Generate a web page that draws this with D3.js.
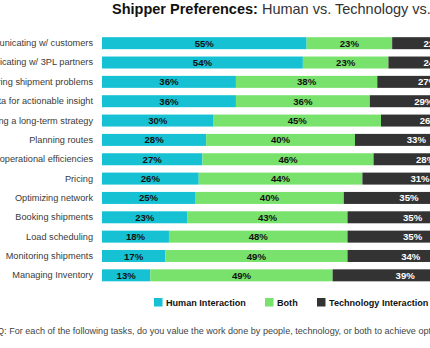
<!DOCTYPE html>
<html><head><meta charset="utf-8">
<script src="https://cdn.jsdelivr.net/npm/d3@7"></script>
<style>body{margin:0;background:#fff;overflow:hidden}svg{display:block;font-family:"Liberation Sans",Arial,sans-serif}</style>
</head><body>
<script>
const tasks = ["Communicating w/ customers","Communicating w/ 3PL partners","Discovering shipment problems","Analyzing data for actionable insight","Developing a long-term strategy","Planning routes","Identifying operational efficiencies","Pricing","Optimizing network","Booking shipments","Load scheduling","Monitoring shipments","Managing Inventory"];
const human = [55,54,36,36,30,28,27,26,25,23,18,17,13];
const both  = [23,23,38,36,45,40,46,44,40,43,48,49,49];
const tech  = [22,24,27,29,26,33,28,31,35,35,35,34,39];
const seriesNames = ["Human Interaction","Both","Technology Interaction"];
const colors = ["#16C1D4","#79E26C","#333333"];
const labelColors = ["#111","#111","#fff"];

const W=430,H=348;
const svg=d3.select("body").append("svg").attr("width",W).attr("height",H);

const x=d3.scaleLinear().domain([0,100]).range([102,474]);
const y=d3.scaleBand().domain(tasks).range([33.5,285]).paddingInner(0.38).paddingOuter(0.19);

const rows=tasks.map((t,i)=>({task:t,vals:[human[i],both[i],tech[i]]}));
const stack=d3.stack().keys([0,1,2]).value((d,k)=>d.vals[k]);
const layers=stack(rows);

layers.forEach((layer,k)=>{
  const g=svg.append("g");
  g.selectAll("rect").data(layer).join("rect")
    .attr("x",d=>x(d[0])).attr("width",d=>x(d[1])-x(d[0]))
    .attr("y",d=>y(d.data.task)).attr("height",y.bandwidth())
    .attr("fill",colors[k]);
  g.selectAll("text").data(layer).join("text")
    .attr("x",d=>(x(d[0])+x(d[1]))/2).attr("y",d=>y(d.data.task)+y.bandwidth()/2)
    .attr("dy","0.37em").attr("text-anchor","middle")
    .attr("font-size",9.6).attr("font-weight","bold").attr("fill",labelColors[k])
    .text(d=>d.data.vals[k]+"%");
});

// category axis
const ax=svg.append("g").attr("transform","translate(102,0)")
  .call(d3.axisLeft(y).tickSize(0).tickPadding(9));
ax.select(".domain").remove();
ax.selectAll("text").attr("font-size",9.2).attr("fill","#3a3a3a").attr("font-family","Liberation Sans, Arial, sans-serif");

// title
const title=svg.append("text").attr("x",112).attr("y",14).attr("font-size",14.5).attr("fill","#111");
title.append("tspan").attr("font-weight","bold").text("Shipper Preferences:");
title.append("tspan").attr("font-weight","normal").attr("fill","#333").text(" Human vs. Technology vs. Both");

// legend
const lx=[154,265,317];
seriesNames.forEach((n,k)=>{
  svg.append("rect").attr("x",lx[k]).attr("y",298).attr("width",8.5).attr("height",8.5).attr("fill",colors[k]);
  svg.append("text").attr("x",lx[k]+12).attr("y",306).attr("font-size",9.1).attr("font-weight","bold").attr("fill","#111").text(n);
});

// footnote
svg.append("text").attr("x",-3).attr("y",334).attr("font-size",9.1).attr("fill","#444")
  .text("Q: For each of the following tasks, do you value the work done by people, technology, or both to achieve optimal results?");
</script>
</body></html>
